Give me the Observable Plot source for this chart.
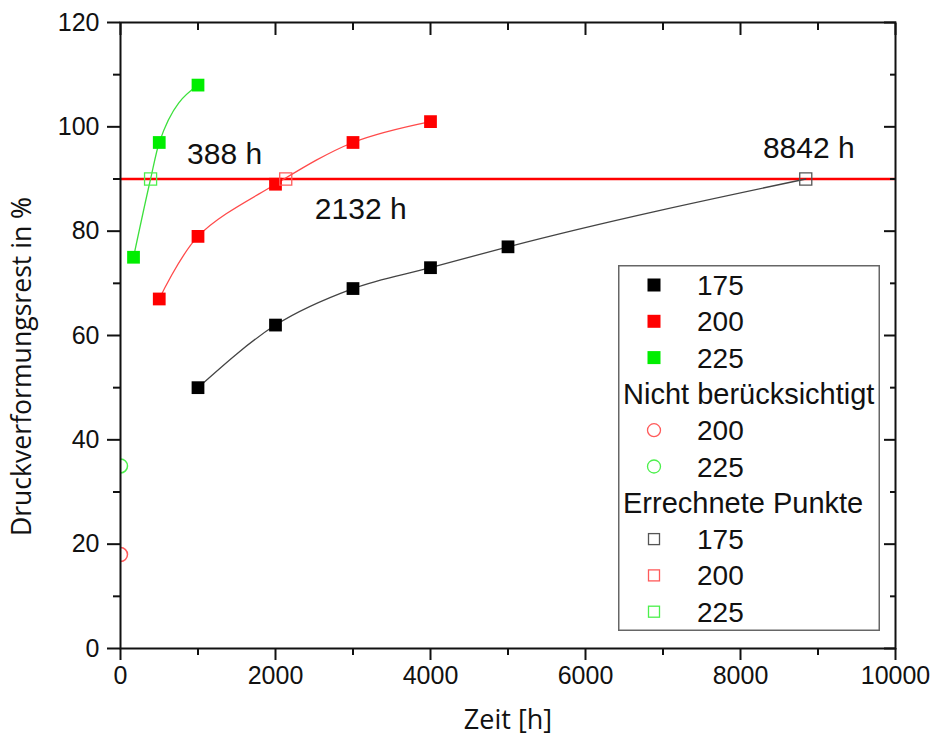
<!DOCTYPE html>
<html><head><meta charset="utf-8">
<script src="https://cdn.jsdelivr.net/npm/d3@7"></script>
<script src="https://cdn.jsdelivr.net/npm/@observablehq/plot@0.6"></script>
<style>
body{margin:0;background:#fff;}
#wrap{position:relative;width:938px;height:747px;font-family:"Liberation Sans",Arial,sans-serif;}
#legend{position:absolute;left:618px;top:265px;}
</style></head><body><div id="wrap"></div>
<script>
// ---- data ----
const time175 = [1000, 2000, 3000, 4000, 5000];
const value175 = [50, 62, 69, 73, 77];
const time200 = [500, 1000, 2000, 3000, 4000];
const value200 = [67, 79, 89, 97, 101];
const time225 = [168, 500, 1000];
const value225 = [75, 97, 108];
const excludedSeries = ["200", "225"];
const excludedTime = [0, 0];
const excludedValue = [18, 35];
const calcSeries = ["175", "200", "225"];
const calcTime = [8842, 2132, 388];
const calcValue = [90, 90, 90];
const calcLabels = ["8842 h", "2132 h", "388 h"];
const threshold = [90];
const xTicks = [0, 2000, 4000, 6000, 8000, 10000];
const yTicks = [0, 20, 40, 60, 80, 100, 120];
const legendMain = ["175", "200", "225"];
const legendExcluded = ["200", "225"];
const legendCalc = ["175", "200", "225"];
const legendHeaders = ["Nicht berücksichtigt", "Errechnete Punkte"];

// ---- styling ----
const fillColor = {"175": "#000000", "200": "#ff0000", "225": "#00ee00"};
const curveColor = {"175": "#444444", "200": "#ff4a4a", "225": "#3de03d"};
const openColor = {"175": "#555555", "200": "#ff5a5a", "225": "#4cf04c"};
const labelOffset = {"175": [3, -31], "200": [75, 30], "225": [74, -25]};

const measured = [
  ...time175.map((t, i) => ({series: "175", t, v: value175[i]})),
  ...time200.map((t, i) => ({series: "200", t, v: value200[i]})),
  ...time225.map((t, i) => ({series: "225", t, v: value225[i]}))
];
const calc = calcTime.map((t, i) => ({series: calcSeries[i], t, v: calcValue[i], label: calcLabels[i]}));
const excluded = excludedTime.map((t, i) => ({series: excludedSeries[i], t, v: excludedValue[i]}));
// fitted curves: measured points plus the calculated points that extend/anchor them
// (the 200 °C calculated point already lies on its curve between two measurements)
const curveOther = [...measured, ...calc].filter(d => d.series !== "200").sort((a, b) => a.t - b.t);
const curve200 = measured.filter(d => d.series === "200").sort((a, b) => a.t - b.t);

const xMinor = d3.range(1000, 10000, 2000);
const yMinor = d3.range(10, 120, 20);

const labelMarks = calc.map(d => Plot.text([d], {
  x: "t", y: "v", text: "label", dx: labelOffset[d.series][0], dy: labelOffset[d.series][1],
  fontSize: 30, fill: "#111"
}));

const chart = Plot.plot({
  width: 938, height: 747,
  marginLeft: 120, marginRight: 43, marginTop: 22, marginBottom: 99,
  style: {fontFamily: "'Liberation Sans', Arial, sans-serif", background: "white", color: "#111"},
  x: {domain: [0, 10000]},
  y: {domain: [0, 120]},
  marks: [
    Plot.ruleY(threshold, {stroke: "#ff0000", strokeWidth: 2.5}),
    Plot.line(curveOther, {x: "t", y: "v", z: "series", stroke: d => curveColor[d.series], curve: "monotone-x", strokeWidth: 1.3}),
    Plot.line(curve200, {x: "t", y: "v", stroke: curveColor["200"], curve: "catmull-rom", strokeWidth: 1.3}),
    Plot.dot(measured, {x: "t", y: "v", symbol: "square", r: 7.2, fill: d => fillColor[d.series], stroke: null}),
    Plot.dot(calc, {x: "t", y: "v", symbol: "square", r: 6.8, fill: "none", stroke: d => openColor[d.series], strokeWidth: 1.3}),
    Plot.dot(excluded, {x: "t", y: "v", symbol: "circle", r: 7, fill: "none", stroke: d => openColor[d.series], strokeWidth: 1.5, clip: true}),
    ...labelMarks,
    Plot.frame({strokeWidth: 2, stroke: "#111"}),
    Plot.axisX(xTicks, {anchor: "bottom", tickSize: 12, tickPadding: 6, strokeWidth: 2, fontSize: 25, tickFormat: d => String(d), label: null}),
    Plot.axisX(xMinor, {anchor: "bottom", tickSize: 7, strokeWidth: 2, tickFormat: () => "", label: null}),
    Plot.axisX(xTicks, {anchor: "top", tickSize: -12, strokeWidth: 2, tickFormat: () => "", label: null}),
    Plot.axisX(xMinor, {anchor: "top", tickSize: -7, strokeWidth: 2, tickFormat: () => "", label: null}),
    Plot.axisY(yTicks, {anchor: "left", tickSize: 13, tickPadding: 8, strokeWidth: 2, fontSize: 25, tickFormat: d => String(d), label: null}),
    Plot.axisY(yMinor, {anchor: "left", tickSize: 7, strokeWidth: 2, tickFormat: () => "", label: null}),
    Plot.axisY(yTicks, {anchor: "right", tickSize: -12, strokeWidth: 2, tickFormat: () => "", label: null}),
    Plot.axisY(yMinor, {anchor: "right", tickSize: -6, strokeWidth: 2, tickFormat: () => "", label: null}),
    Plot.text(["Zeit [h]"], {text: d => d, frameAnchor: "bottom", textAnchor: "middle", dy: 80, fontSize: 27, fontFamily: "'Open Sans', sans-serif", fill: "#111"}),
    Plot.text(["Druckverformungsrest in %"], {text: d => d, frameAnchor: "left", textAnchor: "middle", rotate: -90, dx: -98, dy: 31, fontSize: 26.6, fontFamily: "'Open Sans', sans-serif", fill: "#111"})
  ]
});
document.getElementById("wrap").appendChild(chart);

// ---- legend (inside the plot, drawn as an overlay) ----
const rows = [
  ...legendMain.map(s => ({kind: "filled", s})),
  {kind: "header", s: legendHeaders[0]},
  ...legendExcluded.map(s => ({kind: "circle", s})),
  {kind: "header", s: legendHeaders[1]},
  ...legendCalc.map(s => ({kind: "open", s}))
];
const LW = 262, LH = 366, rowH = 36.3, top0 = 20;
const lg = d3.select("#wrap").append("svg").attr("id", "legend").attr("width", LW).attr("height", LH);
lg.append("rect").attr("x", 0.75).attr("y", 0.75).attr("width", LW - 1.5).attr("height", LH - 1.5)
  .attr("fill", "white").attr("stroke", "#666").attr("stroke-width", 1.5);
rows.forEach((r, i) => {
  const cy = top0 + i * rowH;
  const g = lg.append("g");
  if (r.kind === "header") {
    g.append("text").attr("x", 5).attr("y", cy).attr("dy", "0.36em").attr("font-size", 29).attr("fill", "#111").text(r.s);
    return;
  }
  const mx = 36;
  if (r.kind === "filled") g.append("rect").attr("x", mx - 6.5).attr("y", cy - 6.5).attr("width", 13).attr("height", 13).attr("fill", fillColor[r.s]);
  if (r.kind === "open") g.append("rect").attr("x", mx - 5.5).attr("y", cy - 5.5).attr("width", 11).attr("height", 11).attr("fill", "none").attr("stroke", openColor[r.s]).attr("stroke-width", 1.3);
  if (r.kind === "circle") g.append("circle").attr("cx", mx).attr("cy", cy).attr("r", 6.5).attr("fill", "none").attr("stroke", openColor[r.s]).attr("stroke-width", 1.3);
  g.append("text").attr("x", 79).attr("y", cy).attr("dy", "0.36em").attr("font-size", 28).attr("fill", "#111").text(r.s);
});
</script></body></html>
